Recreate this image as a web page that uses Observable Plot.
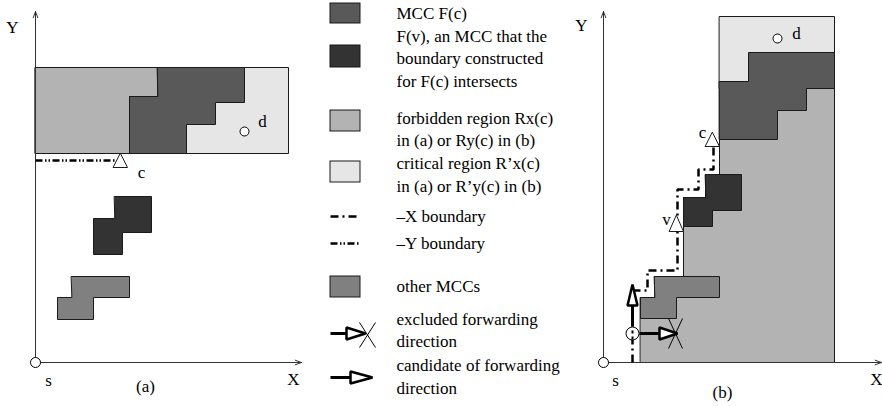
<!DOCTYPE html>
<html><head><meta charset="utf-8">
<script src="https://cdn.jsdelivr.net/npm/d3@7"></script>
<script src="https://cdn.jsdelivr.net/npm/@observablehq/plot@0.6"></script>
<style>body{margin:0;background:#fff}</style>
</head><body><div id="chart"></div>
<script>
// ---- colours ----
const fills = {fc:"#595959", fv:"#333333", forbidden:"#b3b3b3", critical:"#e6e6e6", other:"#808080"};

// ---- panel (a) shapes (diagram units) ----
const aCritical = [[35,67],[288,67],[288,153],[35,153]];
const aForbidden = [[35,67],[157,67],[157,96],[129,96],[129,153],[35,153]];
const aFc = [[157,67],[244,67],[244,102],[215,102],[215,124],[186,124],[186,153],[129,153],[129,96],[157,96]];
const aFv = [[114,196],[151,196],[151,232],[122,232],[122,254],[93,254],[93,218],[114,218]];
const aOther = [[71,276],[129,276],[129,297],[93,297],[93,319],[57,319],[57,297],[71,297]];
const aYBoundary = [[35,160],[115,160]];
const aTriC = [[120,153],[127,167],[113,167]];
const aAxes = [{x1:35,y1:362,x2:35,y2:11},{x1:35,y1:362,x2:301,y2:362}];
const aOrigin = [{x:35,y:362}];
const aDest = [{x:244,y:131}];

// ---- panel (b) shapes ----
const bCritical = [[719,16],[834,16],[834,88],[719,88]];
const bForbidden = [[640,362],[834,362],[834,88],[719,88],[719,174],[705,174],[705,197],[683,197],[683,276],[654,276],[654,297],[640,297]];
const bFc = [[719,81],[748,81],[748,52],[834,52],[834,88],[806,88],[806,110],[777,110],[777,139],[719,139]];
const bFv = [[705,174],[741,174],[741,210],[712,210],[712,226],[683,226],[683,197],[705,197]];
const bOther = [[654,276],[719,276],[719,297],[676,297],[676,318],[640,318],[640,297],[654,297]];
const bXBoundary = [[632,362],[632,290],[647,290],[647,270],[677,270],[677,189],[698,189],[698,169],[713,169],[713,146]];
const bTriC = [[712,132],[719,146],[705,146]];
const bTriV = [[676,215],[683,231],[669,231]];
const bAxes = [{x1:603,y1:362,x2:603,y2:11},{x1:603,y1:362,x2:881,y2:362}];
const bOrigin = [{x:603,y:362}];
const bDest = [{x:777,y:38}];
const bCurrent = [{x:632,y:333}];
const bUpShaft = [[632,326],[632,305]];
const bUpHead = [[632,284],[637,305],[627,305]];
const bRightShaft = [[639,333],[659,333]];
const bRightHead = [[677,333],[659,327],[659,339]];
const bCross = [[[668,318],[682,348]],[[682,318],[668,348]]];

// ---- legend ----
const legendSwatches = [
  {key:"fc", y1:3, y2:23},
  {key:"fv", y1:45, y2:67},
  {key:"forbidden", y1:110, y2:131},
  {key:"critical", y1:161, y2:182},
  {key:"other", y1:276, y2:297}
];
const legendXBoundary = [[330,216],[359,216]];
const legendYBoundary = [[330,243],[359,243]];
const legendExclShaft = [[330,333],[346,333]];
const legendExclHead = [[365,333],[346,327],[346,339]];
const legendExclCross = [[[359,322],[375,347]],[[375,322],[359,347]]];
const legendCandShaft = [[330,377],[350,377]];
const legendCandHead = [[372,377],[350,371],[350,383]];
const legendTexts = [
  ["MCC F(c)",13],
  ["F(v), an MCC that the",36],["boundary constructed",58],["for F(c) intersects",81],
  ["forbidden region Rx(c)",118],["in (a) or Ry(c) in (b)",140],
  ["critical region R\u2019x(c)",163],["in (a) or R\u2019y(c) in (b)",186],
  ["\u2013X boundary",216],
  ["\u2013Y boundary",243],
  ["other MCCs",286],
  ["excluded forwarding",319],["direction",341],
  ["candidate of forwarding",365],["direction",388]
];
const legendTextX = 396;

// ---- labels ----
const labels = [
  {t:"Y",x:12,y:27},{t:"c",x:141,y:172},{t:"d",x:262,y:121},{t:"s",x:48,y:380},{t:"X",x:293,y:379},{t:"(a)",x:145,y:386},
  {t:"Y",x:581,y:25},{t:"d",x:796,y:33},{t:"c",x:702,y:132},{t:"v",x:666,y:219},{t:"s",x:615,y:380},{t:"X",x:876,y:379},{t:"(b)",x:722,y:392}
];

const font = "Liberation Serif, Times New Roman, serif";
const pts = p => p.map(([x,y]) => ({x,y}));
const poly = (p, fill, opts={}) => Plot.line(pts(p), {x:"x", y:"y", curve:"linear-closed", fill, stroke:"#1a1a1a", strokeWidth:1, strokeLinejoin:"miter", ...opts});
const path = (p, opts={}) => Plot.line(pts(p), {x:"x", y:"y", stroke:"black", strokeLinecap:"butt", strokeLinejoin:"miter", ...opts});
const dashX = "8,4,2,4";
const dashY = "7,2.5,1.5,2,1.5,2.5";
const ring = (d, r) => Plot.dot(d, {x:"x", y:"y", r, fill:"white", stroke:"black", strokeWidth:1});

const marks = [
  // panel (a)
  poly(aCritical, fills.critical),
  poly(aForbidden, fills.forbidden),
  poly(aFc, fills.fc),
  poly(aFv, fills.fv),
  poly(aOther, fills.other),
  Plot.arrow(aAxes, {x1:"x1",y1:"y1",x2:"x2",y2:"y2", stroke:"#333", strokeWidth:1, headLength:10, headAngle:40}),
  path(aYBoundary, {strokeWidth:2.5, strokeDasharray:dashY}),
  poly(aTriC, "white"),
  ring(aOrigin, 5),
  ring(aDest, 4.5),
  // panel (b)
  poly(bCritical, fills.critical),
  poly(bForbidden, fills.forbidden),
  poly(bFc, fills.fc),
  poly(bFv, fills.fv),
  poly(bOther, fills.other),
  Plot.arrow(bAxes, {x1:"x1",y1:"y1",x2:"x2",y2:"y2", stroke:"#333", strokeWidth:1, headLength:10, headAngle:40}),
  path(bXBoundary, {strokeWidth:2.5, strokeDasharray:dashX}),
  poly(bTriC, "white"),
  poly(bTriV, "white"),
  ring(bOrigin, 5),
  ring(bDest, 4.5),
  ring(bCurrent, 6.5),
  path(bXBoundary.slice(0,2).map(([x,y]) => [x, Math.min(Math.max(y,327),339)]), {strokeWidth:2, strokeDasharray:"3,3"}),
  path(bUpShaft, {strokeWidth:3}),
  poly(bUpHead, "white", {stroke:"black", strokeWidth:2.5}),
  path(bRightShaft, {strokeWidth:3}),
  poly(bRightHead, "white", {stroke:"black", strokeWidth:2.5}),
  ...bCross.map(c => path(c, {strokeWidth:1})),
  // legend
  Plot.rect(legendSwatches, {x1:()=>330, x2:()=>360, y1:"y1", y2:"y2", fill:d=>fills[d.key], stroke:"#1a1a1a", strokeWidth:1}),
  path(legendXBoundary, {strokeWidth:2.5, strokeDasharray:dashX}),
  path(legendYBoundary, {strokeWidth:2.5, strokeDasharray:dashY}),
  path(legendExclShaft, {strokeWidth:3}),
  poly(legendExclHead, "white", {stroke:"black", strokeWidth:2.5}),
  ...legendExclCross.map(c => path(c, {strokeWidth:1})),
  path(legendCandShaft, {strokeWidth:3}),
  poly(legendCandHead, "white", {stroke:"black", strokeWidth:2.5}),
  Plot.text(legendTexts, {x:()=>legendTextX, y:d=>d[1], text:d=>d[0], textAnchor:"start", fontSize:17, fontFamily:font, fill:"black"}),
  Plot.text(labels, {x:"x", y:"y", text:"t", textAnchor:"middle", fontSize:17, fontFamily:font, fill:"black"})
];

const chart = Plot.plot({
  width:882, height:406, margin:0,
  x:{domain:[0,882], range:[0,882], axis:null},
  y:{domain:[0,406], range:[0,406], axis:null},
  color:{type:"identity"},
  style:{background:"white", overflow:"visible"},
  marks
});
document.getElementById("chart").appendChild(chart);
</script>
</body></html>
